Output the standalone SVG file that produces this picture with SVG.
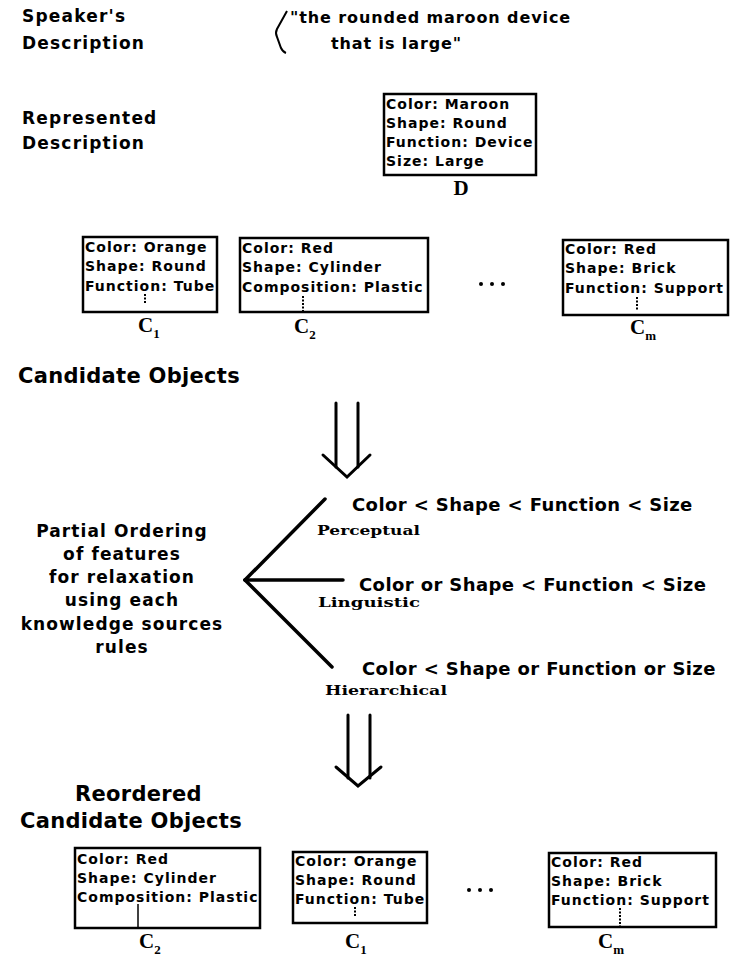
<svg xmlns="http://www.w3.org/2000/svg" width="731" height="961" viewBox="0 0 731 961">
<style>
text{fill:#000}
.hdr{font-family:"DejaVu Sans",sans-serif;font-weight:bold;font-size:17px;letter-spacing:1.2px}
.quote{font-family:"DejaVu Sans",sans-serif;font-weight:bold;font-size:16px;letter-spacing:0.9px}
.bt{font-family:"DejaVu Sans",sans-serif;font-weight:bold;font-size:14px;letter-spacing:1px}
.big{font-family:"DejaVu Sans",sans-serif;font-weight:bold;font-size:21px;letter-spacing:0.3px}
.ord{font-family:"DejaVu Sans",sans-serif;font-weight:bold;font-size:18px;letter-spacing:0.4px}
.left{font-family:"DejaVu Sans",sans-serif;font-weight:bold;font-size:17px;letter-spacing:1.1px;text-anchor:middle}
.src{font-family:"DejaVu Serif",serif;font-weight:bold;font-size:13px}
.lbl{font-family:"Liberation Serif",serif;font-weight:bold;font-size:21px}
.sub{font-size:13px}
.box{fill:#fff;stroke:#000;stroke-width:2.5}
.tick{stroke:#000;stroke-width:2;stroke-dasharray:2 1.5}
.line{stroke:#000;stroke-width:3.5;fill:none;stroke-linecap:round}
.arr{stroke:#000;stroke-width:3;fill:none;stroke-linecap:round;stroke-linejoin:miter}
</style>

<g id="speaker-label">
<text class="hdr" x="22" y="22">Speaker's</text>
<text class="hdr" x="22" y="49">Description</text>
</g>

<g id="speaker-quote">
<path d="M287,11 L277,29 Q275,33 277,37 L281,48 Q283,52 286,53" fill="none" stroke="#000" stroke-width="2"/>
<text class="quote" x="290" y="23">"the rounded maroon device</text>
<text class="quote" x="331" y="49">that is large"</text>
</g>

<g id="represented-label">
<text class="hdr" x="22" y="124">Represented</text>
<text class="hdr" x="22" y="149">Description</text>
</g>

<g id="node-D">
<rect class="box" x="384" y="94" width="152" height="81"/>
<text class="bt" x="386" y="109">Color: Maroon</text>
<text class="bt" x="386" y="128">Shape: Round</text>
<text class="bt" x="386" y="147">Function: Device</text>
<text class="bt" x="386" y="166">Size: Large</text>
<text class="lbl" x="461" y="195" text-anchor="middle">D</text>
</g>

<g id="node-c1-top">
<rect class="box" x="83" y="237" width="134" height="75"/>
<text class="bt" x="85" y="252">Color: Orange</text>
<text class="bt" x="85" y="271">Shape: Round</text>
<text class="bt" x="85" y="291">Function: Tube</text>
<line class="tick" x1="145" y1="294" x2="145" y2="304"/>
<text class="lbl" x="138" y="332">C<tspan class="sub" dy="6">1</tspan></text>
</g>

<g id="node-c2-top">
<rect class="box" x="240" y="238" width="188" height="74"/>
<text class="bt" x="242" y="253">Color: Red</text>
<text class="bt" x="242" y="272">Shape: Cylinder</text>
<text class="bt" x="242" y="292">Composition: Plastic</text>
<line class="tick" x1="303" y1="296" x2="303" y2="312"/>
<text class="lbl" x="294" y="333">C<tspan class="sub" dy="6">2</tspan></text>
</g>

<g id="ellipsis-top">
<circle cx="481" cy="284" r="2"/>
<circle cx="492" cy="284" r="2"/>
<circle cx="503" cy="284" r="2"/>
</g>

<g id="node-cm-top">
<rect class="box" x="563" y="240" width="165" height="75"/>
<text class="bt" x="565" y="254">Color: Red</text>
<text class="bt" x="565" y="273">Shape: Brick</text>
<text class="bt" x="565" y="293">Function: Support</text>
<line class="tick" x1="637" y1="297" x2="637" y2="310"/>
<text class="lbl" x="630" y="334">C<tspan class="sub" dy="6">m</tspan></text>
</g>

<g id="candidate-objects">
<text class="big" x="18" y="383">Candidate Objects</text>
</g>

<g id="partial-ordering">
<text class="left" x="122" y="537">Partial Ordering</text>
<text class="left" x="122" y="560">of features</text>
<text class="left" x="122" y="583">for relaxation</text>
<text class="left" x="122" y="606">using each</text>
<text class="left" x="122" y="630">knowledge sources</text>
<text class="left" x="122" y="653">rules</text>
</g>

<g id="perceptual">
<text class="ord" x="352" y="511">Color &lt; Shape &lt; Function &lt; Size</text>
<text class="src" x="317" y="535" textLength="103" lengthAdjust="spacingAndGlyphs">Perceptual</text>
</g>

<g id="linguistic">
<text class="ord" x="359" y="591">Color or Shape &lt; Function &lt; Size</text>
<text class="src" x="318" y="607" textLength="102" lengthAdjust="spacingAndGlyphs">Linguistic</text>
</g>

<g id="hierarchical">
<text class="ord" x="362" y="675">Color &lt; Shape or Function or Size</text>
<text class="src" x="325" y="695" textLength="122" lengthAdjust="spacingAndGlyphs">Hierarchical</text>
</g>

<g id="reordered-label">
<text class="big" x="75" y="801">Reordered</text>
<text class="big" x="20" y="828">Candidate Objects</text>
</g>

<g id="node-c2-bottom">
<rect class="box" x="75" y="848" width="185" height="80"/>
<text class="bt" x="77" y="864">Color: Red</text>
<text class="bt" x="77" y="883">Shape: Cylinder</text>
<text class="bt" x="77" y="902">Composition: Plastic</text>
<line x1="138" y1="904" x2="138" y2="928" stroke="#000" stroke-width="1.5"/>
<text class="lbl" x="139" y="948">C<tspan class="sub" dy="6">2</tspan></text>
</g>

<g id="node-c1-bottom">
<rect class="box" x="293" y="852" width="134" height="71"/>
<text class="bt" x="295" y="866">Color: Orange</text>
<text class="bt" x="295" y="885">Shape: Round</text>
<text class="bt" x="295" y="904">Function: Tube</text>
<line class="tick" x1="355" y1="907" x2="355" y2="917"/>
<text class="lbl" x="345" y="948">C<tspan class="sub" dy="6">1</tspan></text>
</g>

<g id="ellipsis-bottom">
<circle cx="469" cy="890" r="2"/>
<circle cx="480" cy="890" r="2"/>
<circle cx="491" cy="890" r="2"/>
</g>

<g id="node-cm-bottom">
<rect class="box" x="549" y="853" width="167" height="74"/>
<text class="bt" x="551" y="867">Color: Red</text>
<text class="bt" x="551" y="886">Shape: Brick</text>
<text class="bt" x="551" y="905">Function: Support</text>
<line class="tick" x1="620" y1="908" x2="620" y2="927"/>
<text class="lbl" x="598" y="948">C<tspan class="sub" dy="6">m</tspan></text>
</g>

<g id="connectors">
<line class="arr" x1="336" y1="403" x2="336" y2="467"/>
<line class="arr" x1="358" y1="403" x2="358" y2="467"/>
<polyline class="arr" points="323,455 347,477 370,455"/>
<line class="line" x1="245" y1="580" x2="325" y2="499"/>
<line class="line" x1="245" y1="580" x2="343" y2="580"/>
<line class="line" x1="245" y1="580" x2="332" y2="667"/>
<line class="arr" x1="348" y1="715" x2="348" y2="778"/>
<line class="arr" x1="370" y1="715" x2="370" y2="778"/>
<polyline class="arr" points="336,767 358,786 381,767"/>
</g>
</svg>
